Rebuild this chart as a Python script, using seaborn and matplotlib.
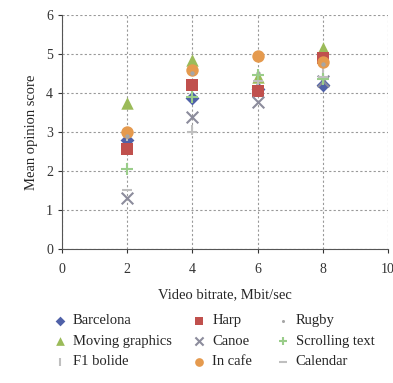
import matplotlib
matplotlib.use("Agg")
import matplotlib.pyplot as plt
import seaborn as sns
import pandas as pd

# Données
bitrate = [2, 4, 6, 8]
series = ["Barcelona", "Moving graphics", "F1 bolide",
          "Harp", "Canoe", "In cafe",
          "Rugby", "Scrolling text", "Calendar"]
barcelona = [2.8, 3.88, 4.1, 4.2]
moving_graphics = [3.75, 4.85, 4.4, 5.15]
f1_bolide = [2.9, 3.05, 4.2, 4.5]
harp = [2.55, 4.2, 4.05, 4.9]
canoe = [1.3, 3.38, 3.78, 4.3]
in_cafe = [3.0, 4.6, 4.95, 4.8]
rugby = [2.9, 4.5, 4.5, 4.75]
scrolling_text = [2.05, 3.9, 4.45, 4.35]
calendar = [1.5, 3.0, 4.3, 4.4]
values = [barcelona, moving_graphics, f1_bolide, harp, canoe,
          in_cafe, rugby, scrolling_text, calendar]

# Style de chaque série
markers = ["D", "^", "|", "s", "x", "o", ".", "+", "_"]
colors = ["#4F61A8", "#9BBB59", "#BFBFBF", "#C0504D", "#8C8C9C",
          "#E59A4E", "#A6A6A6", "#9ACD8A", "#BFBFBF"]
sizes = [50, 80, 60, 75, 70, 80, 40, 70, 60]

df = pd.DataFrame({
    "bitrate": bitrate * len(series),
    "mos": [v for vals in values for v in vals],
    "serie": [s for s in series for _ in bitrate],
})

sns.set_style("white")
plt.rcParams["font.family"] = ["Liberation Serif", "DejaVu Serif"]

fig = plt.figure(figsize=(3.93, 3.83), dpi=100)
ax = fig.add_axes([0.158, 0.35, 0.829, 0.611])

for s, m, c, sz in zip(series, markers, colors, sizes):
    sub = df[df["serie"] == s]
    lw = 1.5 if m in ["x", "+", "|", "_"] else 0
    sns.scatterplot(data=sub, x="bitrate", y="mos", marker=m, color=c, s=sz,
                    linewidth=lw, edgecolor=c if lw == 0 else None,
                    label=s, ax=ax, legend=False, zorder=3)

ax.set_xlim(0, 10)
ax.set_ylim(0, 6)
ax.set_xticks(range(0, 11, 2))
ax.set_yticks(range(0, 7))
ax.grid(True, linestyle=(0, (2, 2)), color="#999999", linewidth=0.8)
ax.set_axisbelow(True)
for side in ["top", "right"]:
    ax.spines[side].set_visible(False)
for side in ["left", "bottom"]:
    ax.spines[side].set_color("#555555")
    ax.spines[side].set_linewidth(0.8)
ax.tick_params(axis="both", labelsize=10, length=3, direction="out",
               colors="#333333", left=True, bottom=True)
ax.tick_params(axis="x", pad=7)
ax.set_xlabel("Video bitrate, Mbit/sec", fontsize=10.5, labelpad=9)
ax.set_ylabel("Mean opinion score", fontsize=10.5, labelpad=6)

# Légende en trois colonnes séparées
handles, labels = ax.get_legend_handles_labels()
col_x = [0.115, 0.47, 0.682]
for i, x0 in enumerate(col_x):
    leg = fig.legend(handles[3 * i:3 * i + 3], labels[3 * i:3 * i + 3],
                     loc="upper left", bbox_to_anchor=(x0, 0.195),
                     frameon=False, fontsize=10.5, handletextpad=0.3,
                     labelspacing=0.5, markerscale=0.7, handlelength=1.2,
                     borderaxespad=0)

plt.savefig("out.png", dpi=100)
plt.close()
